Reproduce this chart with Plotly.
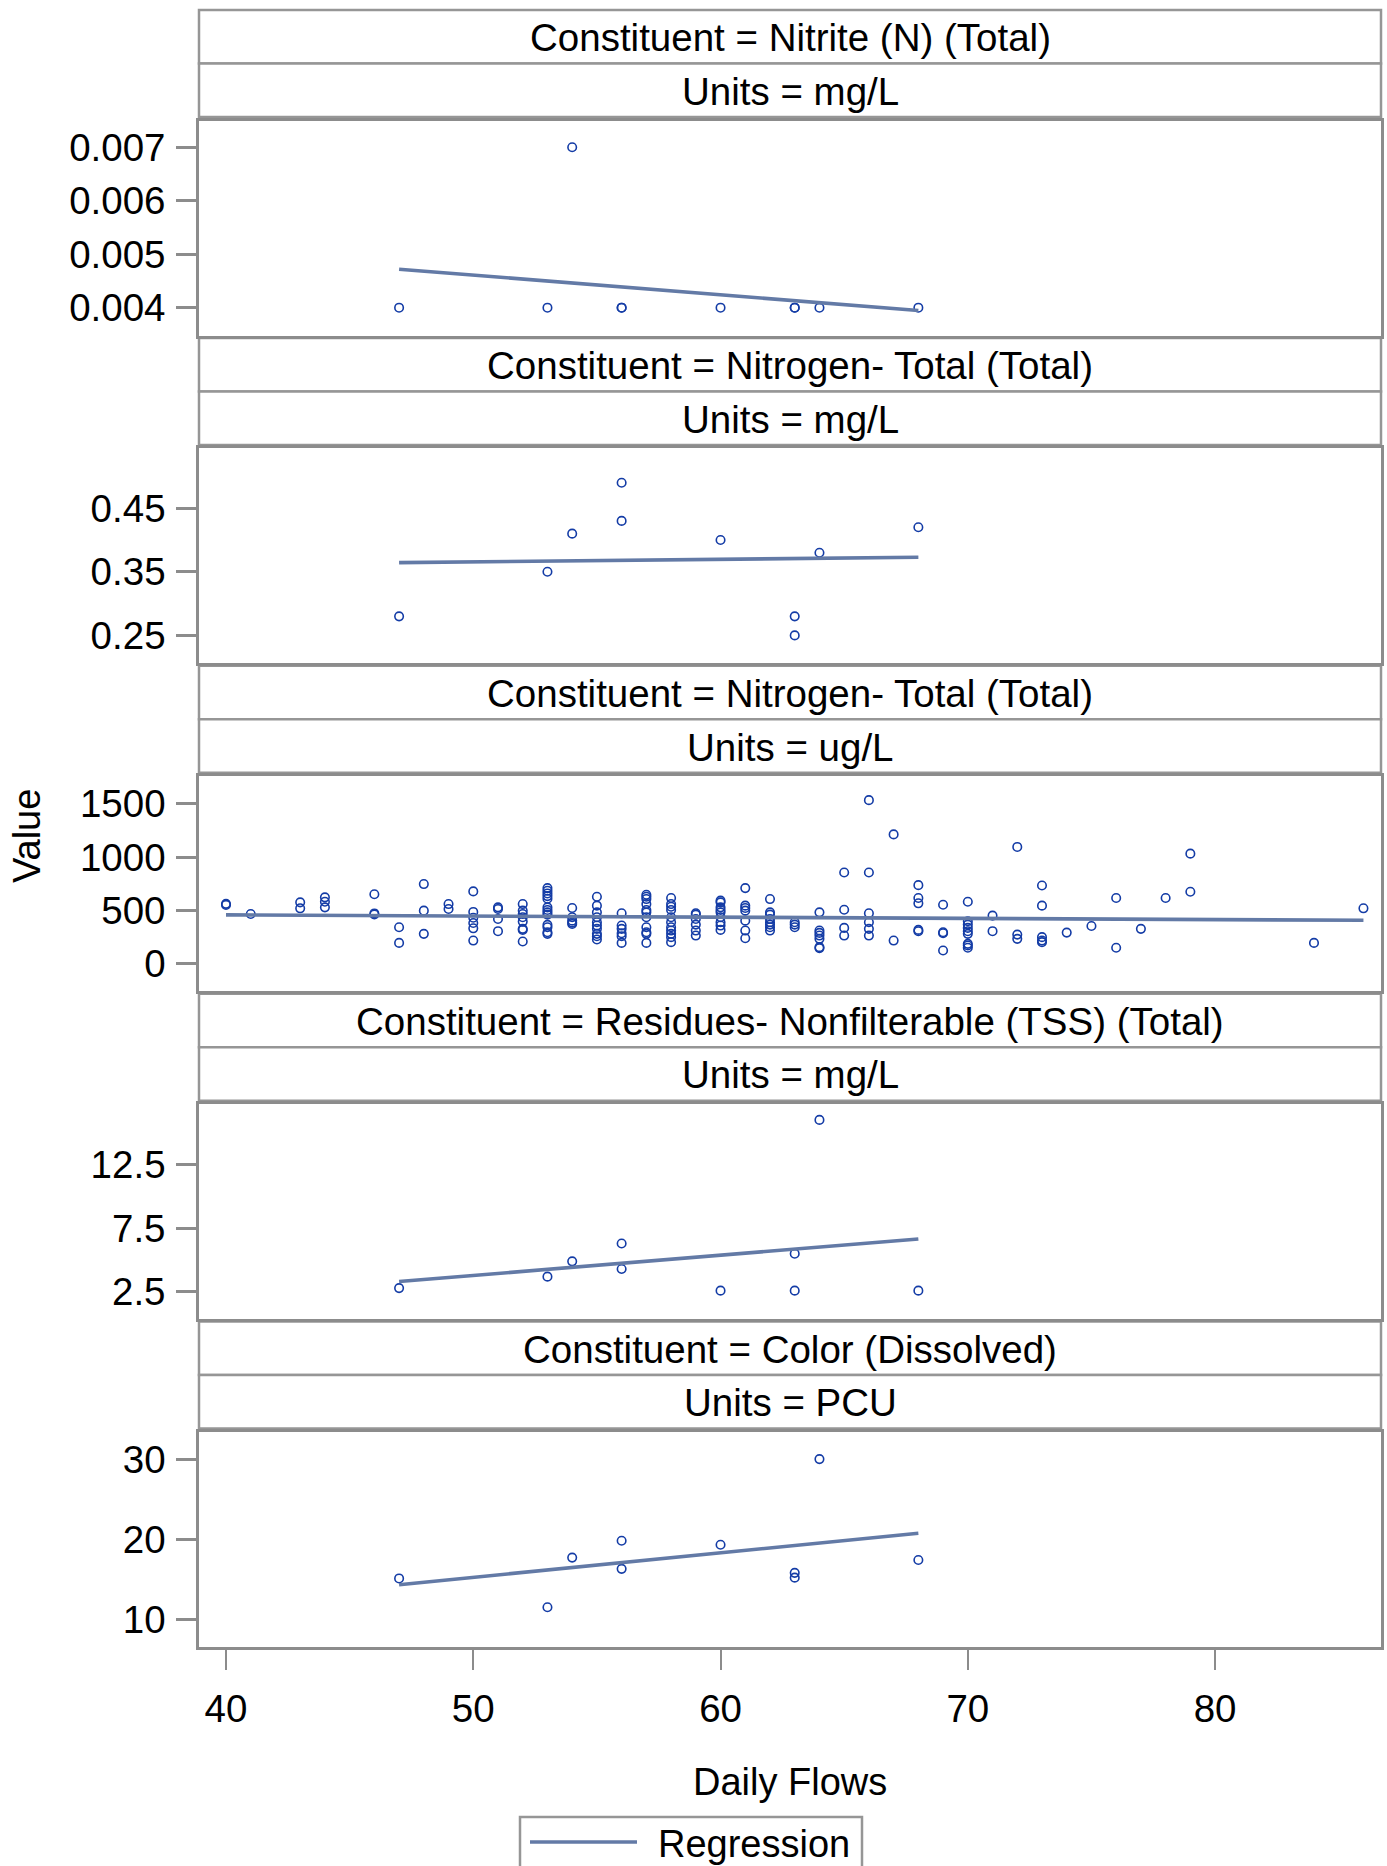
import numpy as np
import plotly.graph_objects as go

# ---------------------------------------------------------------- data
# Panels share the same flow samples except the ug/L nitrogen panel.
flow_small = [47, 53, 54, 56, 56, 60, 63, 63, 64, 68]

nitrite_mg = [0.004, 0.004, 0.007, 0.004, 0.004, 0.004, 0.004, 0.004, 0.004, 0.004]
nitrogen_mg = [0.28, 0.35, 0.41, 0.49, 0.43, 0.40, 0.28, 0.25, 0.38, 0.42]
tss_mg = [2.8, 3.7, 4.9, 6.3, 4.3, 2.6, 5.5, 2.6, 16.0, 2.6]
color_pcu = [15.1, 11.5, 17.7, 19.8, 16.3, 19.3, 15.8, 15.2, 30.0, 17.4]

# Nitrogen (ug/L): flow -> list of observed values
nitrogen_ug_by_flow = {
    40: [560, 550],
    41: [465],
    43: [574, 518],
    44: [621, 580, 527],
    46: [650, 470, 460],
    47: [340, 193],
    48: [746, 496, 278],
    49: [558, 512],
    50: [677, 484, 430, 380, 330, 215],
    51: [527, 512, 418, 303],
    52: [558, 496, 465, 434, 393, 325, 315, 206],
    53: [708, 683, 658, 633, 608, 527, 502, 480, 459, 362, 340, 293, 278],
    54: [521, 434, 402, 384, 371],
    55: [627, 543, 480, 434, 387, 356, 325, 278, 256, 225],
    56: [471, 356, 325, 284, 256, 193],
    57: [646, 627, 605, 558, 502, 480, 434, 340, 293, 278, 193],
    58: [615, 558, 533, 502, 434, 387, 340, 309, 278, 247, 200],
    59: [471, 459, 418, 365, 309, 262],
    60: [590, 574, 527, 502, 480, 434, 387, 356, 315],
    61: [708, 543, 521, 496, 402, 309, 237],
    62: [605, 480, 459, 418, 387, 365, 340, 309],
    63: [387, 365, 340],
    64: [480, 309, 287, 262, 231, 153, 144],
    65: [855, 505, 334, 262],
    66: [1535, 855, 471, 387, 325, 262],
    67: [1213, 215],
    68: [736, 615, 565, 315, 303],
    69: [552, 293, 284, 122],
    70: [580, 396, 365, 334, 303, 278, 184, 169, 147],
    71: [449, 303],
    72: [1095, 271, 231],
    73: [733, 543, 247, 215, 200],
    74: [290],
    75: [352],
    76: [615, 147],
    77: [325],
    78: [615],
    79: [1032, 674],
    84: [193],
    86: [518],
}
flow_ug = [f for f, vals in nitrogen_ug_by_flow.items() for _ in vals]
nitrogen_ug = [v for vals in nitrogen_ug_by_flow.values() for v in vals]

constituents = [
    "Nitrite (N) (Total)",
    "Nitrogen- Total (Total)",
    "Nitrogen- Total (Total)",
    "Residues- Nonfilterable (TSS) (Total)",
    "Color (Dissolved)",
]
units = ["mg/L", "mg/L", "ug/L", "mg/L", "PCU"]
panel_x = [flow_small, flow_small, flow_ug, flow_small, flow_small]
panel_y = [nitrite_mg, nitrogen_mg, nitrogen_ug, tss_mg, color_pcu]

y_tickvals = [
    [0.004, 0.005, 0.006, 0.007],
    [0.25, 0.35, 0.45],
    [0, 500, 1000, 1500],
    [2.5, 7.5, 12.5],
    [10, 20, 30],
]
y_ticktext = [
    ["0.004", "0.005", "0.006", "0.007"],
    ["0.25", "0.35", "0.45"],
    ["0", "500", "1000", "1500"],
    ["2.5", "7.5", "12.5"],
    ["10", "20", "30"],
]
y_ranges = [
    [0.00348, 0.0075],
    [0.206, 0.544],
    [-262, 1759],
    [0.36, 17.23],
    [6.54, 33.37],
]
x_tickvals = [40, 50, 60, 70, 80]
x_range = [38.908, 86.71]

# ---------------------------------------------------------------- layout geometry
W, H = 1387, 1866
ML, MR, MT, MB = 199, 6, 10, 219
PW, PH = W - ML - MR, H - MT - MB
PERIOD = 327.9      # vertical pitch of one panel (headers + plot)
HDR = 53.5          # height of one header cell
PLOT_H = 215.0

def fx(px):
    return (px - ML) / PW

def fy(py):
    return (H - MB - py) / PH

def clamp(v):
    return min(1.0, max(0.0, v))

FONT = "Liberation Sans, Arial, Helvetica, sans-serif"
FS = 38.5
FS_HDR = 38.5
FRAME = "#8c8c8c"
MARKER_C = "#143ca6"
LINE_C = "#637aa6"

fig = go.Figure()
shapes = []
annotations = []

for i in range(5):
    top = MT + i * PERIOD
    ptop = top + 2 * HDR + 3.5
    pbot = ptop + PLOT_H
    sfx = "" if i == 0 else str(i + 1)
    xa, ya = "x" + sfx, "y" + sfx

    xs = np.array(panel_x[i], dtype=float)
    ys = np.array(panel_y[i], dtype=float)
    slope, icpt = np.polyfit(xs, ys, 1)
    xl = np.array([xs.min(), xs.max()])

    fig.add_trace(go.Scatter(
        x=xs, y=ys, mode="markers", xaxis=xa, yaxis=ya, showlegend=False,
        marker=dict(symbol="circle-open", size=8.5, color=MARKER_C,
                    line=dict(width=1.6, color=MARKER_C)),
        hoverinfo="x+y",
    ))
    fig.add_trace(go.Scatter(
        x=xl, y=slope * xl + icpt, mode="lines", xaxis=xa, yaxis=ya,
        name="Regression", showlegend=False,
        line=dict(color=LINE_C, width=3.6),
    ))

    bottom = (i == 4)
    fig.layout["xaxis" + sfx] = dict(
        domain=[0, 1], range=x_range, anchor=ya,
        showgrid=False, zeroline=False,
        showline=True, mirror=True, linecolor=FRAME, linewidth=2.5,
        tickvals=x_tickvals if bottom else [],
        ticks="outside" if bottom else "",
        ticklen=20, tickwidth=2, tickcolor=FRAME,
        showticklabels=bottom,
        tickfont=dict(family=FONT, size=FS, color="black"),
        ticklabelstandoff=6,
        matches=None if i == 0 else "x",
    )
    fig.layout["yaxis" + sfx] = dict(
        domain=[clamp(fy(pbot)), clamp(fy(ptop))], range=y_ranges[i], anchor=xa,
        showgrid=False, zeroline=False,
        showline=True, mirror=True, linecolor=FRAME, linewidth=2.5,
        tickvals=y_tickvals[i], ticktext=y_ticktext[i],
        ticks="outside", ticklen=20, tickwidth=2.5, tickcolor=FRAME,
        tickfont=dict(family=FONT, size=FS, color="black"),
        ticklabelstandoff=3,
    )

    # two header cells above each plot
    for k, label in enumerate([f"Constituent = {constituents[i]}", f"Units = {units[i]}"]):
        y0, y1 = top + k * HDR, top + (k + 1) * HDR
        shapes.append(dict(type="rect", xref="paper", yref="paper",
                           x0=0, x1=1, y0=fy(y1), y1=fy(y0),
                           line=dict(color="#969696", width=2.5),
                           fillcolor="white", layer="below"))
        annotations.append(dict(text=label, xref="paper", yref="paper",
                                x=0.5, y=fy((y0 + y1) / 2 + 1),
                                xanchor="center", yanchor="middle",
                                showarrow=False,
                                font=dict(family=FONT, size=FS_HDR, color="black")))

# axis titles
annotations.append(dict(text="Value", xref="paper", yref="paper",
                        x=fx(27), y=fy(836), textangle=-90,
                        xanchor="center", yanchor="middle", showarrow=False,
                        font=dict(family=FONT, size=38, color="black")))
annotations.append(dict(text="Daily Flows", xref="paper", yref="paper",
                        x=fx(790), y=fy(1782),
                        xanchor="center", yanchor="middle", showarrow=False,
                        font=dict(family=FONT, size=38, color="black")))

# legend box
shapes.append(dict(type="rect", xref="paper", yref="paper",
                   x0=fx(520), x1=fx(862), y0=fy(1900), y1=fy(1817),
                   line=dict(color="#969696", width=2.5), fillcolor="white"))
shapes.append(dict(type="line", xref="paper", yref="paper",
                   x0=fx(530), x1=fx(637), y0=fy(1842), y1=fy(1842),
                   line=dict(color=LINE_C, width=3.6)))
annotations.append(dict(text="Regression", xref="paper", yref="paper",
                        x=fx(656), y=fy(1844),
                        xanchor="left", yanchor="middle", showarrow=False,
                        font=dict(family=FONT, size=38, color="black")))

fig.update_layout(
    width=W, height=H,
    margin=dict(l=ML, r=MR, t=MT, b=MB, autoexpand=False),
    paper_bgcolor="white", plot_bgcolor="white",
    shapes=shapes, annotations=annotations,
    showlegend=False,
    font=dict(family=FONT, size=FS, color="black"),
)

fig.write_html("out.html")
